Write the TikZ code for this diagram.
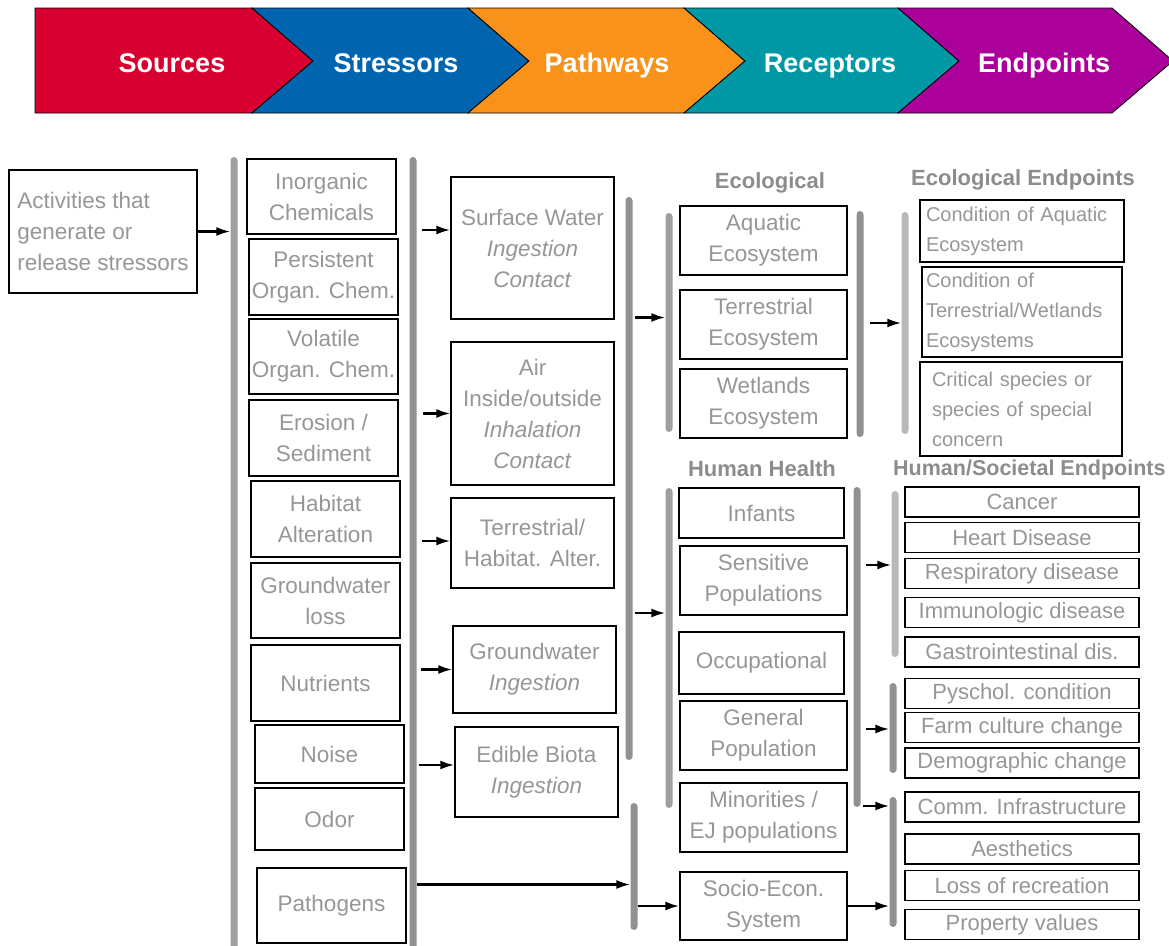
\documentclass[tikz,border=0pt]{standalone}
\usepackage{fontspec}
\setmainfont{Liberation Sans}
\usetikzlibrary{calc,arrows.meta}

\definecolor{cred}{RGB}{216,0,48}
\definecolor{cblue}{RGB}{0,100,175}
\definecolor{corange}{RGB}{248,146,26}
\definecolor{cteal}{RGB}{0,152,164}
\definecolor{cpurple}{RGB}{172,0,155}
\definecolor{txtgray}{RGB}{150,150,150}
\definecolor{headgray}{RGB}{140,140,140}
\definecolor{barlt}{RGB}{185,185,185}
\definecolor{barmd}{RGB}{160,160,160}
\definecolor{bardk}{RGB}{145,145,145}

\newcommand{\txtbody}{\fontsize{22.5}{31}\selectfont}
\newcommand{\txtsmall}{\fontsize{20}{30}\selectfont}
\newcommand{\txtend}{\fontsize{22}{26}\selectfont}
\newcommand{\txthead}{\fontsize{22}{26}\selectfont\bfseries}
\newcommand{\txtbanner}{\fontsize{27}{30}\selectfont\bfseries}

\tikzset{
  box/.style={draw=black,line width=1.4pt,inner sep=0pt,align=center,text=txtgray,font=\txtbody},
  lbox/.style={box,align=left},
  endbox/.style={box,font=\txtend,minimum width=234,minimum height=30},
  bar/.style={fill=barmd,rounded corners=3.5pt,minimum width=7,inner sep=0pt},
  arr/.style={-{Latex[length=14pt,width=9pt]},line width=2.2pt},
  head/.style={text=headgray,font=\txthead},
  banner/.style={text=white,font=\txtbanner,anchor=base}
}

\begin{document}
\begin{tikzpicture}[x=1pt,y=-1pt]
\useasboundingbox (0,0) rectangle (1169,945);

% banner
\foreach \c/\l/\r/\d in {cred/35/252/0,cblue/252/468/61,corange/468/684/61,cteal/684/898/61,cpurple/898/1112/61}
  \filldraw[fill=\c,draw=black,line width=0.8pt] (\l,8) -- (\r,8) -- (\r+61,61) -- (\r,113) -- (\l,113) -- (\l+\d,61) -- cycle;
\node[banner] (src) at (172,72) {Sources};
\node[banner] (str) at (396,72) {Stressors};
\node[banner] (pth) at (607,72) {Pathways};
\node[banner] (rec) at (830,72) {Receptors};
\node[banner] (ept) at (1044,72) {Endpoints};

% sources and stressors
\node[lbox,minimum width=188,minimum height=123] (act) at (103,231.5) {Activities that\\generate or\\release stressors};
\node[box,minimum width=149,minimum height=75,line width=2.4pt] (inorg) at (321.5,196.5) {Inorganic\\Chemicals};
\node[box,minimum width=149,minimum height=76] (pers) at (323.5,277) {Persistent\\Organ. Chem.};
\node[box,minimum width=149,minimum height=75] (vola) at (323.5,356.5) {Volatile\\Organ. Chem.};
\node[box,minimum width=149,minimum height=76] (eros) at (323.5,438) {Erosion /\\Sediment};
\node[box,minimum width=149,minimum height=76] (habit) at (325.5,519) {Habitat\\Alteration};
\node[box,minimum width=149,minimum height=75] (gwloss) at (325.5,600.5) {Groundwater\\loss};
\node[box,minimum width=149,minimum height=76] (nutr) at (325.5,683) {Nutrients};
\node[box,minimum width=149,minimum height=58] (noise) at (329.5,754) {Noise};
\node[box,minimum width=149,minimum height=62] (odor) at (329.5,819) {Odor};
\node[box,minimum width=149,minimum height=75] (patho) at (331.5,905.5) {Pathogens};

% pathways
\node[box,minimum width=163,minimum height=142] (sw) at (532.5,248) {Surface Water\\\textit{Ingestion}\\\textit{Contact}};
\node[box,minimum width=163,minimum height=143] (air) at (532.5,413.5) {Air\\Inside/outside\\\textit{Inhalation}\\\textit{Contact}};
\node[box,minimum width=163,minimum height=90] (terr) at (532.5,543) {Terrestrial/\\Habitat. Alter.};
\node[box,minimum width=163,minimum height=87] (gw) at (534.5,669.5) {Groundwater\\\textit{Ingestion}};
\node[box,minimum width=163,minimum height=90] (edible) at (536.5,772) {Edible Biota\\\textit{Ingestion}};

% receptors
\node[head] (ecohd) at (770,183) {Ecological};
\node[head] (hhhd) at (762,469) {Human Health};
\node[box,minimum width=167,minimum height=69] (aqua) at (763.5,240.5) {Aquatic\\Ecosystem};
\node[box,minimum width=167,minimum height=69] (terre) at (763.5,324.5) {Terrestrial\\Ecosystem};
\node[box,minimum width=167,minimum height=69] (wet) at (763.5,403.5) {Wetlands\\Ecosystem};
\node[box,minimum width=165,minimum height=50] (inf) at (761.5,513) {Infants};
\node[box,minimum width=167,minimum height=69] (sens) at (763.5,580.5) {Sensitive\\Populations};
\node[box,minimum width=165,minimum height=62] (occ) at (761.5,663) {Occupational};
\node[box,minimum width=167,minimum height=69] (gen) at (763.5,735.5) {General\\Population};
\node[box,minimum width=167,minimum height=69] (mino) at (763.5,817.5) {Minorities /\\EJ populations};
\node[box,minimum width=167,minimum height=68] (socio) at (763.5,906) {Socio-Econ.\\System};

% endpoints
\node[head] (eehd) at (1023,180) {Ecological Endpoints};
\node[head,anchor=west,inner sep=0pt,font=\fontsize{21.5}{26}\selectfont\bfseries] (hshd) at (893,470) {Human/Societal Endpoints};
\node[lbox,font=\txtsmall,text width=192,inner xsep=6,minimum height=62] (ce1) at (1022,231) {Condition of Aquatic\\Ecosystem};
\node[lbox,font=\txtsmall,text width=192,inner xsep=4,minimum height=90] (ce2) at (1022,312) {Condition of\\Terrestrial/Wetlands\\Ecosystems};
\node[lbox,font=\txtsmall,text width=178,inner xsep=12,minimum height=94] (ce3) at (1021,409) {Critical species or\\species of special\\concern};
\foreach \n/\y/\t in {cancer/502/Cancer,heart/537.5/Heart Disease,resp/573.5/Respiratory disease,
  immu/612.5/Immunologic disease,gastro/652/Gastrointestinal dis.,psych/693.5/Pyschol. condition,
  farm/727.5/Farm culture change,demo/763/Demographic change,comm/807/Comm. Infrastructure,
  aest/849/Aesthetics,loss/885.5/Loss of recreation,prop/924.5/Property values}
  \node[endbox] (\n) at (1022,\y) {\t};

% bars
\node[bar,minimum height=793] (b1) at (234,553.5) {};
\node[bar,fill=bardk,minimum height=793] (b2) at (413,553.5) {};
\node[bar,fill=bardk,minimum height=563] (b3) at (629,478.5) {};
\node[bar,fill=bardk,minimum height=127] (b4) at (634,866.5) {};
\node[bar,minimum height=219] (beL) at (669,322.5) {};
\node[bar,minimum height=320] (hhL) at (669,648) {};
\node[bar,fill=bardk,minimum height=226] (beR) at (860,324) {};
\node[bar,fill=bardk,minimum height=320] (hhR) at (857,647) {};
\node[bar,fill=barlt,minimum height=222] (eeB) at (905,323) {};
\node[bar,fill=barlt,minimum height=166] (heB1) at (895,574) {};
\node[bar,fill=bardk,minimum height=90] (heB2) at (893,728) {};
\node[bar,fill=bardk,minimum height=130] (heB3) at (893,862) {};

% arrows
\draw[arr] (act.east) -- (act.east -| b1.west);
\draw[arr] ($(b2.east |- sw.west)+(5,-18)$) -- ($(sw.west)+(0,-18)$);
\draw[arr] ($(b2.east |- air.west)+(6,0)$) -- (air.west);
\draw[arr] ($(b2.east |- terr.west)+(5,-2)$) -- ($(terr.west)+(0,-2)$);
\draw[arr] ($(b2.east |- gw.west)+(4,0)$) -- (gw.west);
\draw[arr] ($(b2.east |- edible.west)+(2,-7)$) -- ($(edible.west)+(0,-7)$);
\draw[arr] ($(b2.east |- patho.east)+(0,-21)$) -- ($(b4.west |- patho.east)+(0,-21)$);
\draw[arr] ($(b3.east |- beL.west)+(2,-5)$) -- ($(beL.west)+(0,-5)$);
\draw[arr] ($(b3.east |- hhL.west)+(2,-35)$) -- ($(hhL.west)+(0,-35)$);
\draw[arr] (b4.east |- socio.west) -- (socio.west);
\draw[arr] ($(beR.east |- eeB.west)+(6,0)$) -- (eeB.west);
\draw[arr] ($(hhR.east |- heB1.west)+(5,-9)$) -- ($(heB1.west)+(0,-9)$);
\draw[arr] ($(hhR.east |- heB2.west)+(5,1)$) -- ($(heB2.west)+(0,1)$);
\draw[arr] ($(hhR.east |- heB3.west)+(2,-56)$) -- ($(heB3.west)+(0,-56)$);
\draw[arr] (socio.east) -- (socio.east -| heB3.west);
\end{tikzpicture}
\end{document}
